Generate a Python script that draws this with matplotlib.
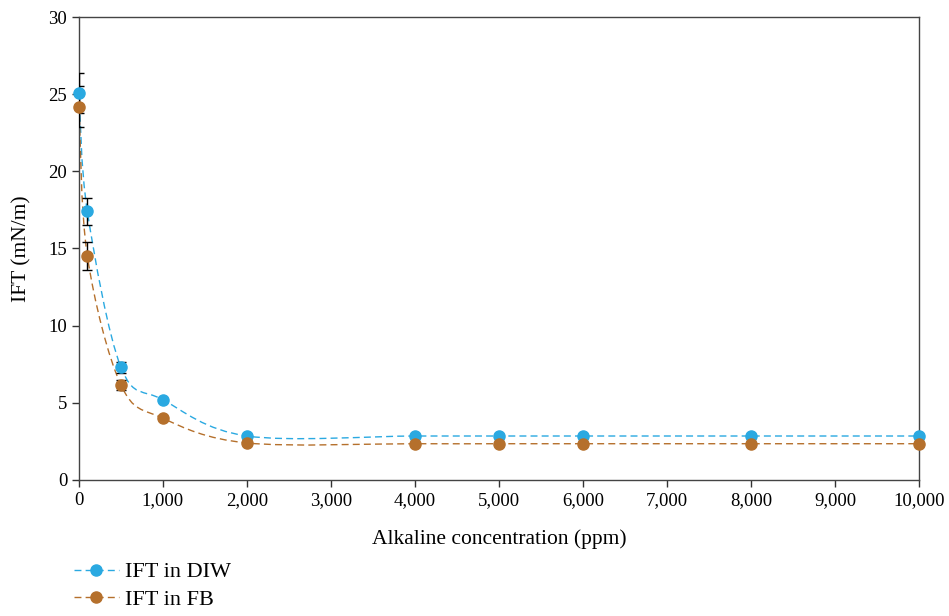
import numpy as np
import matplotlib.pyplot as plt
from matplotlib.path import Path
from matplotlib.patches import PathPatch
from matplotlib.lines import Line2D
from matplotlib.ticker import FuncFormatter

plt.rcParams["font.family"] = ["Liberation Serif", "DejaVu Serif"]

conc = [0, 100, 500, 1000, 2000, 4000, 5000, 6000, 8000, 10000]
ift_diw = [25.1, 17.4, 7.3, 5.2, 2.85, 2.85, 2.85, 2.85, 2.85, 2.85]
ift_fb = [24.2, 14.5, 6.15, 4.0, 2.4, 2.35, 2.35, 2.35, 2.35, 2.35]
err_diw = [1.3, 0.87, 0.35, 0, 0, 0, 0, 0, 0, 0]
err_fb = [1.3, 0.9, 0.35, 0, 0, 0, 0, 0, 0, 0]

blue = "#2aa9e1"
brown = "#b5702c"


def smooth_path(x, y):
    # Excel-like smoothed line: cubic Bezier segments with 1/6 tangents
    pts = np.column_stack([x, y]).astype(float)
    n = len(pts)
    verts = [pts[0]]
    codes = [Path.MOVETO]
    for i in range(n - 1):
        p0 = pts[max(i - 1, 0)]
        p1 = pts[i]
        p2 = pts[i + 1]
        p3 = pts[min(i + 2, n - 1)]
        c1 = p1 + (p2 - p0) / 6.0
        c2 = p2 - (p3 - p1) / 6.0
        verts += [c1, c2, p2]
        codes += [Path.CURVE4] * 3
    return Path(verts, codes)


fig = plt.figure(figsize=(9.49, 6.16), dpi=100)
ax = fig.add_axes([0.0832, 0.2208, 0.8852, 0.7516])

for y, e, c in [(ift_diw, err_diw, blue), (ift_fb, err_fb, brown)]:
    ax.add_patch(PathPatch(smooth_path(conc, y), facecolor="none", edgecolor=c,
                           lw=1.0, linestyle=(0, (5, 3)), zorder=2))
    ax.errorbar(conc, y, yerr=e, fmt="none", ecolor="black", elinewidth=1.0,
                capsize=3.6, capthick=1.0, zorder=3)
    ax.plot(conc, y, "o", color=c, markersize=8, zorder=4, clip_on=False)

ax.set_xlim(0, 10000)
ax.set_ylim(0, 30)
ax.set_xticks(range(0, 10001, 1000))
ax.set_yticks(range(0, 31, 5))
ax.xaxis.set_major_formatter(FuncFormatter(lambda v, p: f"{int(v):,}"))
ax.tick_params(labelsize=13.5, direction="out", length=5, width=1, color="#333333")
ax.set_xlabel("Alkaline concentration (ppm)", fontsize=15.5, labelpad=14.5)
ax.set_ylabel("IFT (mN/m)", fontsize=15.5, labelpad=12)
for s in ax.spines.values():
    s.set_color("#444444")
    s.set_linewidth(1.0)

handles = [
    Line2D([], [], color=blue, lw=1, ls=(0, (5, 3)), marker="o", markersize=8),
    Line2D([], [], color=brown, lw=1, ls=(0, (5, 3)), marker="o", markersize=8),
]
fig.legend(handles, ["IFT in DIW", "IFT in FB"], loc="lower left",
           bbox_to_anchor=(0.057, -0.022), frameon=False, fontsize=16,
           handlelength=2.0, handletextpad=0.3, labelspacing=0.3)

fig.savefig("out.png", dpi=100)
